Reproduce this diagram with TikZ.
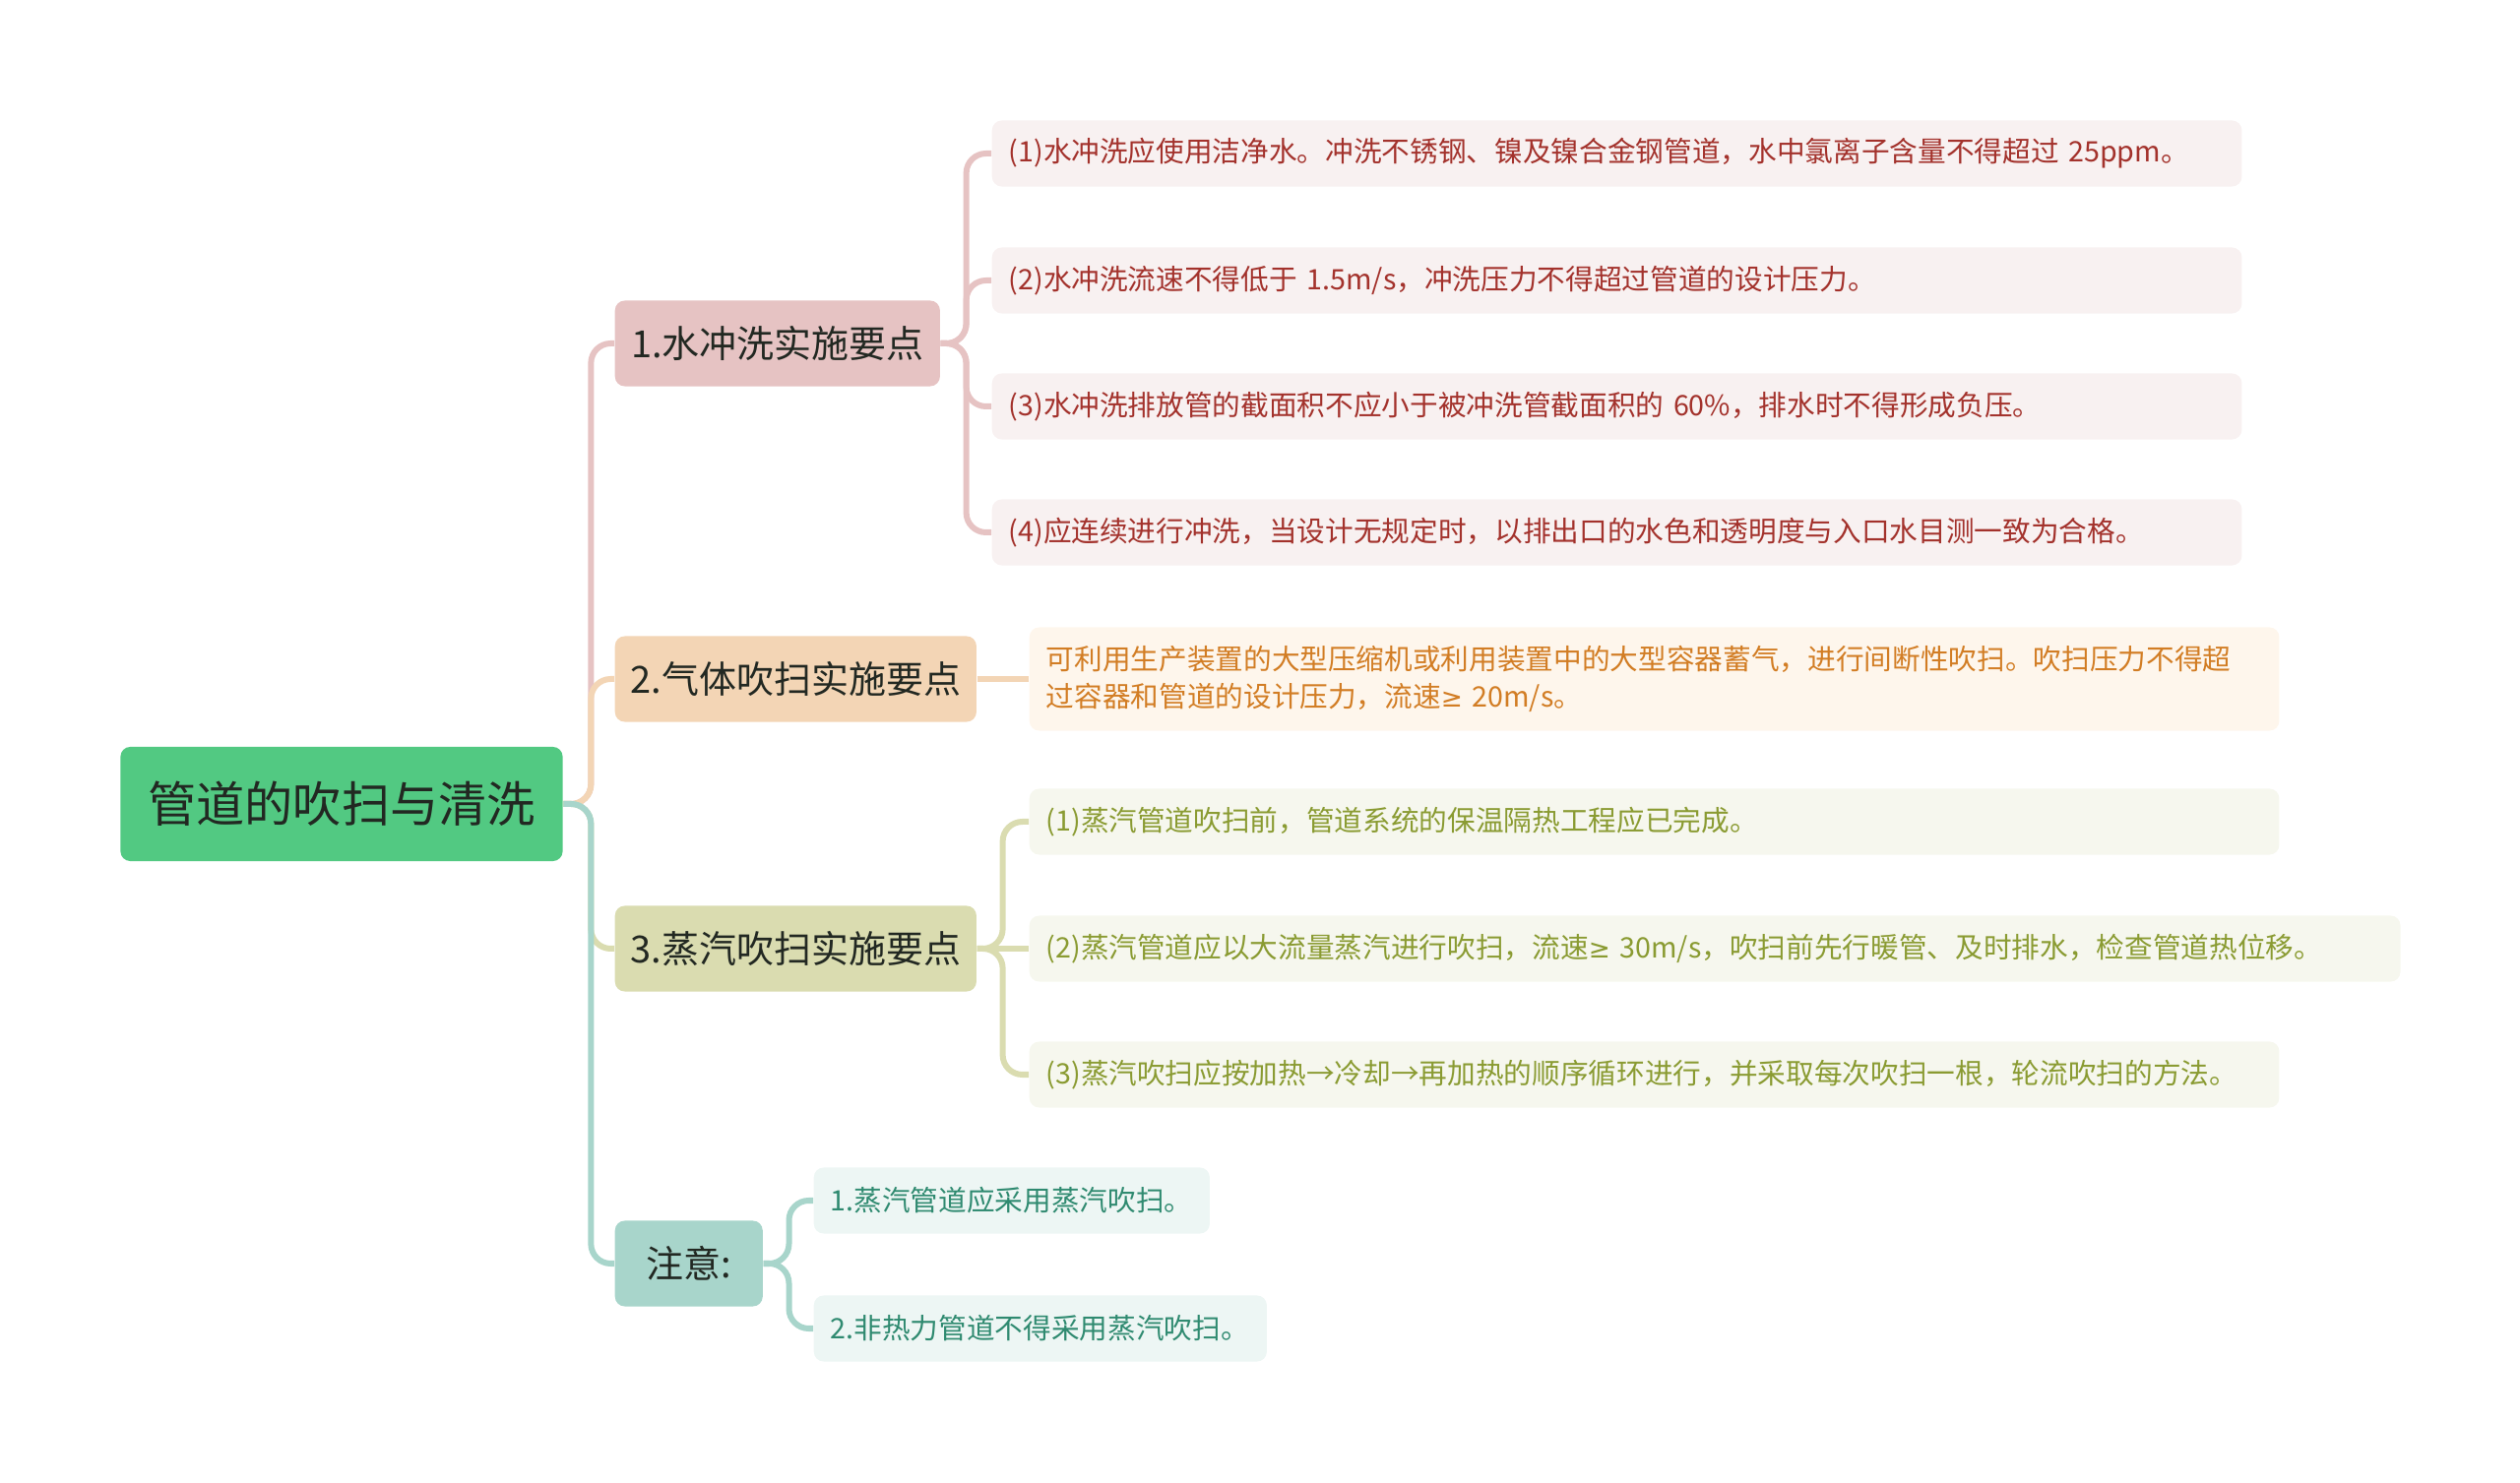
\documentclass[tikz,border=0pt]{standalone}
\usepackage{fontspec}
\setmainfont{Noto Sans CJK SC}
\newfontfamily\signfont{DejaVu Sans}
\definecolor{rootgreen}{HTML}{52C982}
\definecolor{inkdark}{HTML}{222822}
\definecolor{washpink}{HTML}{E6C3C3}
\definecolor{washleaf}{HTML}{F8F1F1}
\definecolor{washink}{HTML}{A3322C}
\definecolor{gaspeach}{HTML}{F3D5B5}
\definecolor{gasleaf}{HTML}{FEF6EC}
\definecolor{gasink}{HTML}{D27D24}
\definecolor{steamolive}{HTML}{DADCB0}
\definecolor{steamleaf}{HTML}{F6F7EE}
\definecolor{steamink}{HTML}{8A9B32}
\definecolor{notemint}{HTML}{A8D5CB}
\definecolor{noteleaf}{HTML}{EDF6F4}
\definecolor{noteink}{HTML}{2F8A70}
\newcommand{\atleast}{{\signfont\fontsize{7.5}{10}\selectfont ≥}}
\begin{document}
\begin{tikzpicture}[x=0.01cm, y=-0.01cm,
    every node/.style={rectangle, rounded corners=0.1cm, inner sep=0pt},
    rootbox/.style={fill=rootgreen, text=inkdark, minimum width=4.49cm, minimum height=1.16cm, font=\fontsize{14}{17}\selectfont},
    branchbox/.style={anchor=west, text=inkdark, minimum height=0.87cm, font=\fontsize{10.8}{13}\selectfont},
    leafbox/.style={anchor=west, minimum height=0.67cm, inner xsep=0.17cm, align=left, font=\fontsize{8.15}{10.7}\selectfont},
    washnote/.style={leafbox, fill=washleaf, text=washink, text width=12.35cm},
    gasnote/.style={leafbox, fill=gasleaf, text=gasink, text width=12.35cm},
    steamnote/.style={leafbox, fill=steamleaf, text=steamink, text width=#1},
    tipnote/.style={leafbox, fill=noteleaf, text=noteink, text width=#1},
    link/.style={line width=0.06cm, rounded corners=0.2cm}]
            \useasboundingbox (0,0) rectangle (2560,1507);

            \node[rootbox] (root) at (347,817) {管道的吹扫与清洗};

            \node[branchbox, fill=washpink, minimum width=3.30cm] (wash) at (624,349) {1.水冲洗实施要点};
            \node[branchbox, fill=gaspeach, minimum width=3.67cm] (gas) at (624,690) {2.气体吹扫实施要点};
            \node[branchbox, fill=steamolive, minimum width=3.67cm] (steam) at (624,964) {3.蒸汽吹扫实施要点};
            \node[branchbox, fill=notemint, minimum width=1.50cm] (tip) at (624,1284) {注意:};

            \node[washnote] (wash1) at (1007,156) {(1)水冲洗应使用洁净水。冲洗不锈钢、镍及镍合金钢管道，水中氯离子含量不得超过 25ppm。};
            \node[washnote] (wash2) at (1007,285) {(2)水冲洗流速不得低于 1.5m/s，冲洗压力不得超过管道的设计压力。};
            \node[washnote] (wash3) at (1007,413) {(3)水冲洗排放管的截面积不应小于被冲洗管截面积的 60\%，排水时不得形成负压。};
            \node[washnote] (wash4) at (1007,541) {(4)应连续进行冲洗，当设计无规定时，以排出口的水色和透明度与入口水目测一致为合格。};

            \node[gasnote, minimum height=1.05cm] (gas1) at (1045,690) {可利用生产装置的大型压缩机或利用装置中的大型容器蓄气，进行间断性吹扫。吹扫压力不得超\\过容器和管道的设计压力，流速\atleast{} 20m/s。};

            \node[steamnote=12.35cm] (steam1) at (1045,835) {(1)蒸汽管道吹扫前，管道系统的保温隔热工程应已完成。};
            \node[steamnote=13.58cm] (steam2) at (1045,964) {(2)蒸汽管道应以大流量蒸汽进行吹扫，流速\atleast{} 30m/s，吹扫前先行暖管、及时排水，检查管道热位移。};
            \node[steamnote=12.35cm] (steam3) at (1045,1092) {(3)蒸汽吹扫应按加热→冷却→再加热的顺序循环进行，并采取每次吹扫一根，轮流吹扫的方法。};

            \node[tipnote=3.68cm] (tip1) at (826,1220) {1.蒸汽管道应采用蒸汽吹扫。};
            \node[tipnote=4.26cm] (tip2) at (826,1350) {2.非热力管道不得采用蒸汽吹扫。};

            \draw[link, washpink] (root.east) -- ++(28,0) |- (wash.west);
            \draw[link, gaspeach] (root.east) -- ++(28,0) |- (gas.west);
            \draw[link, steamolive] (root.east) -- ++(28,0) |- (steam.west);
            \draw[link, notemint] (root.east) -- ++(28,0) |- (tip.west);

            \foreach \leaf in {wash1, wash2, wash3, wash4}
                \draw[link, washpink] (wash.east) -- ++(26,0) |- (\leaf.west);
            \draw[link, gaspeach] (gas.east) -- (gas1.west);
            \draw[link, steamolive] (steam.east) -- ++(26,0) |- (steam1.west);
            \draw[link, steamolive] (steam.east) -- (steam2.west);
            \draw[link, steamolive] (steam.east) -- ++(26,0) |- (steam3.west);
            \draw[link, notemint] (tip.east) -- ++(26,0) |- (tip1.west);
            \draw[link, notemint] (tip.east) -- ++(26,0) |- (tip2.west);
          \end{tikzpicture}
\end{document}
